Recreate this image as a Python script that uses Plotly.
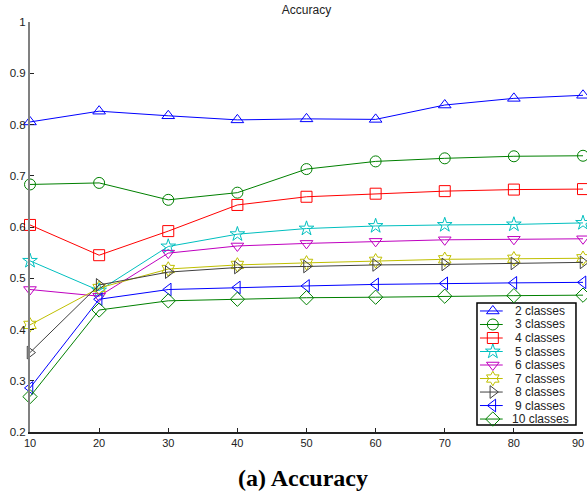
import plotly.graph_objects as go

x_vals = [10, 20, 30, 40, 50, 60, 70, 80, 90]
x_tick_text = ["10", "20", "30", "40", "50", "60", "70", "80", "90"]
y_vals_ticks = [0.2, 0.3, 0.4, 0.5, 0.6, 0.7, 0.8, 0.9, 1.0]
y_tick_text = ["0.2", "0.3", "0.4", "0.5", "0.6", "0.7", "0.8", "0.9", "1"]
names = ["2 classes", "3 classes", "4 classes", "5 classes", "6 classes",
         "7 classes", "8 classes", "9 classes", "10 classes"]
acc_2 = [0.805, 0.826, 0.817, 0.809, 0.811, 0.810, 0.838, 0.851, 0.857]
acc_3 = [0.683, 0.686, 0.653, 0.667, 0.713, 0.728, 0.734, 0.738, 0.739]
acc_4 = [0.604, 0.545, 0.592, 0.643, 0.659, 0.665, 0.670, 0.673, 0.674]
acc_5 = [0.534, 0.476, 0.562, 0.586, 0.597, 0.602, 0.604, 0.605, 0.608]
acc_6 = [0.478, 0.465, 0.549, 0.563, 0.568, 0.572, 0.575, 0.576, 0.577]
acc_7 = [0.409, 0.481, 0.518, 0.526, 0.530, 0.534, 0.537, 0.538, 0.539]
acc_8 = [0.355, 0.487, 0.512, 0.521, 0.523, 0.526, 0.527, 0.529, 0.531]
acc_9 = [0.286, 0.459, 0.478, 0.482, 0.485, 0.488, 0.490, 0.491, 0.492]
acc_10 = [0.269, 0.438, 0.456, 0.459, 0.462, 0.463, 0.465, 0.466, 0.467]
series = [acc_2, acc_3, acc_4, acc_5, acc_6, acc_7, acc_8, acc_9, acc_10]

colors = ["#0000FF", "#008000", "#FF0000", "#00BFBF", "#BF00BF",
          "#BFBF00", "#404040", "#0000FF", "#008000"]
symbols = ["triangle-up-open", "circle-open", "square-open", "star-open",
           "triangle-down-open", "hexagram-open", "triangle-right-open",
           "triangle-left-open", "diamond-open"]

MS = 11
fig = go.Figure()
for n, ys, c, s in zip(names, series, colors, symbols):
    fig.add_trace(go.Scatter(
        x=x_vals, y=ys, name=n, mode="lines+markers",
        line=dict(color=c, width=1),
        marker=dict(symbol=s, size=MS, color=c, line=dict(color=c, width=1)),
        cliponaxis=False, showlegend=False,
    ))

# Compact legend drawn in its own small axes (legend rows indexed by entry order)
n_items = len(names)
for i, (n, c, s) in enumerate(zip(names, colors, symbols)):
    fig.add_trace(go.Scatter(
        x=[0.03, 0.26], y=[i, i], mode="lines", line=dict(color=c, width=1),
        xaxis="x2", yaxis="y2", showlegend=False, hoverinfo="skip"))
    fig.add_trace(go.Scatter(
        x=[0.16], y=[i], mode="markers",
        marker=dict(symbol=s, size=MS, color=c, line=dict(color=c, width=1)),
        xaxis="x2", yaxis="y2", showlegend=False, hoverinfo="skip", cliponaxis=False))
    fig.add_annotation(text=n, x=0.64, y=i, xref="x2", yref="y2",
                       xanchor="center", yanchor="middle", showarrow=False,
                       font=dict(family="Liberation Sans, Arial", size=12, color="#222"))

fig.add_shape(type="rect", xref="x2 domain", yref="y2 domain", x0=0, x1=1, y0=0, y1=1,
              layer="below", fillcolor="white", line=dict(color="black", width=1.5))

fig.update_layout(
    width=587, height=492,
    margin=dict(l=30, r=4, t=22, b=60, autoexpand=False),
    paper_bgcolor="white", plot_bgcolor="rgba(0,0,0,0)",
    font=dict(family="Liberation Sans, Arial", size=11, color="#222"),
    title=dict(text="Accuracy", xref="paper", x=0.5, xanchor="center",
               y=0.98, yanchor="middle", font=dict(size=12, color="#222")),
    showlegend=False,
    xaxis=dict(range=[10, 90], tickvals=x_vals, ticktext=x_tick_text[:-1] + [""],
               ticks="inside", ticklen=4, tickcolor="#222", showgrid=False,
               zeroline=False, showline=True, linecolor="#222", linewidth=1.5,
               tickfont=dict(size=11), automargin=False),
    yaxis=dict(range=[0.2, 1.0], tickvals=y_vals_ticks, ticktext=y_tick_text,
               ticks="inside", ticklen=4, tickcolor="#222", showgrid=False,
               zeroline=False, showline=True, linecolor="#808080", linewidth=2,
               tickfont=dict(size=11.5), automargin=False),
    xaxis2=dict(domain=[0.8083, 0.9873], range=[0, 1], visible=False, fixedrange=True,
                anchor="y2"),
    yaxis2=dict(domain=[0.0171, 0.3146], range=[n_items - 1 + 0.44, -0.59], visible=False,
                fixedrange=True, anchor="x2"),
)

# last x tick label placed inside the figure's right edge
fig.add_annotation(text=x_tick_text[-1], x=x_vals[-1], y=0, xref="x", yref="paper",
                   xanchor="right", xshift=3, yanchor="top", yshift=-3, showarrow=False,
                   font=dict(family="Liberation Sans, Arial", size=11, color="#222"))

fig.add_annotation(text="<b>(a) Accuracy</b>", xref="paper", yref="paper",
                   x=0.494, y=-0.112, xanchor="center", yanchor="middle",
                   showarrow=False,
                   font=dict(family="Liberation Serif, Times New Roman", size=24, color="black"))

fig.write_html("out.html")
